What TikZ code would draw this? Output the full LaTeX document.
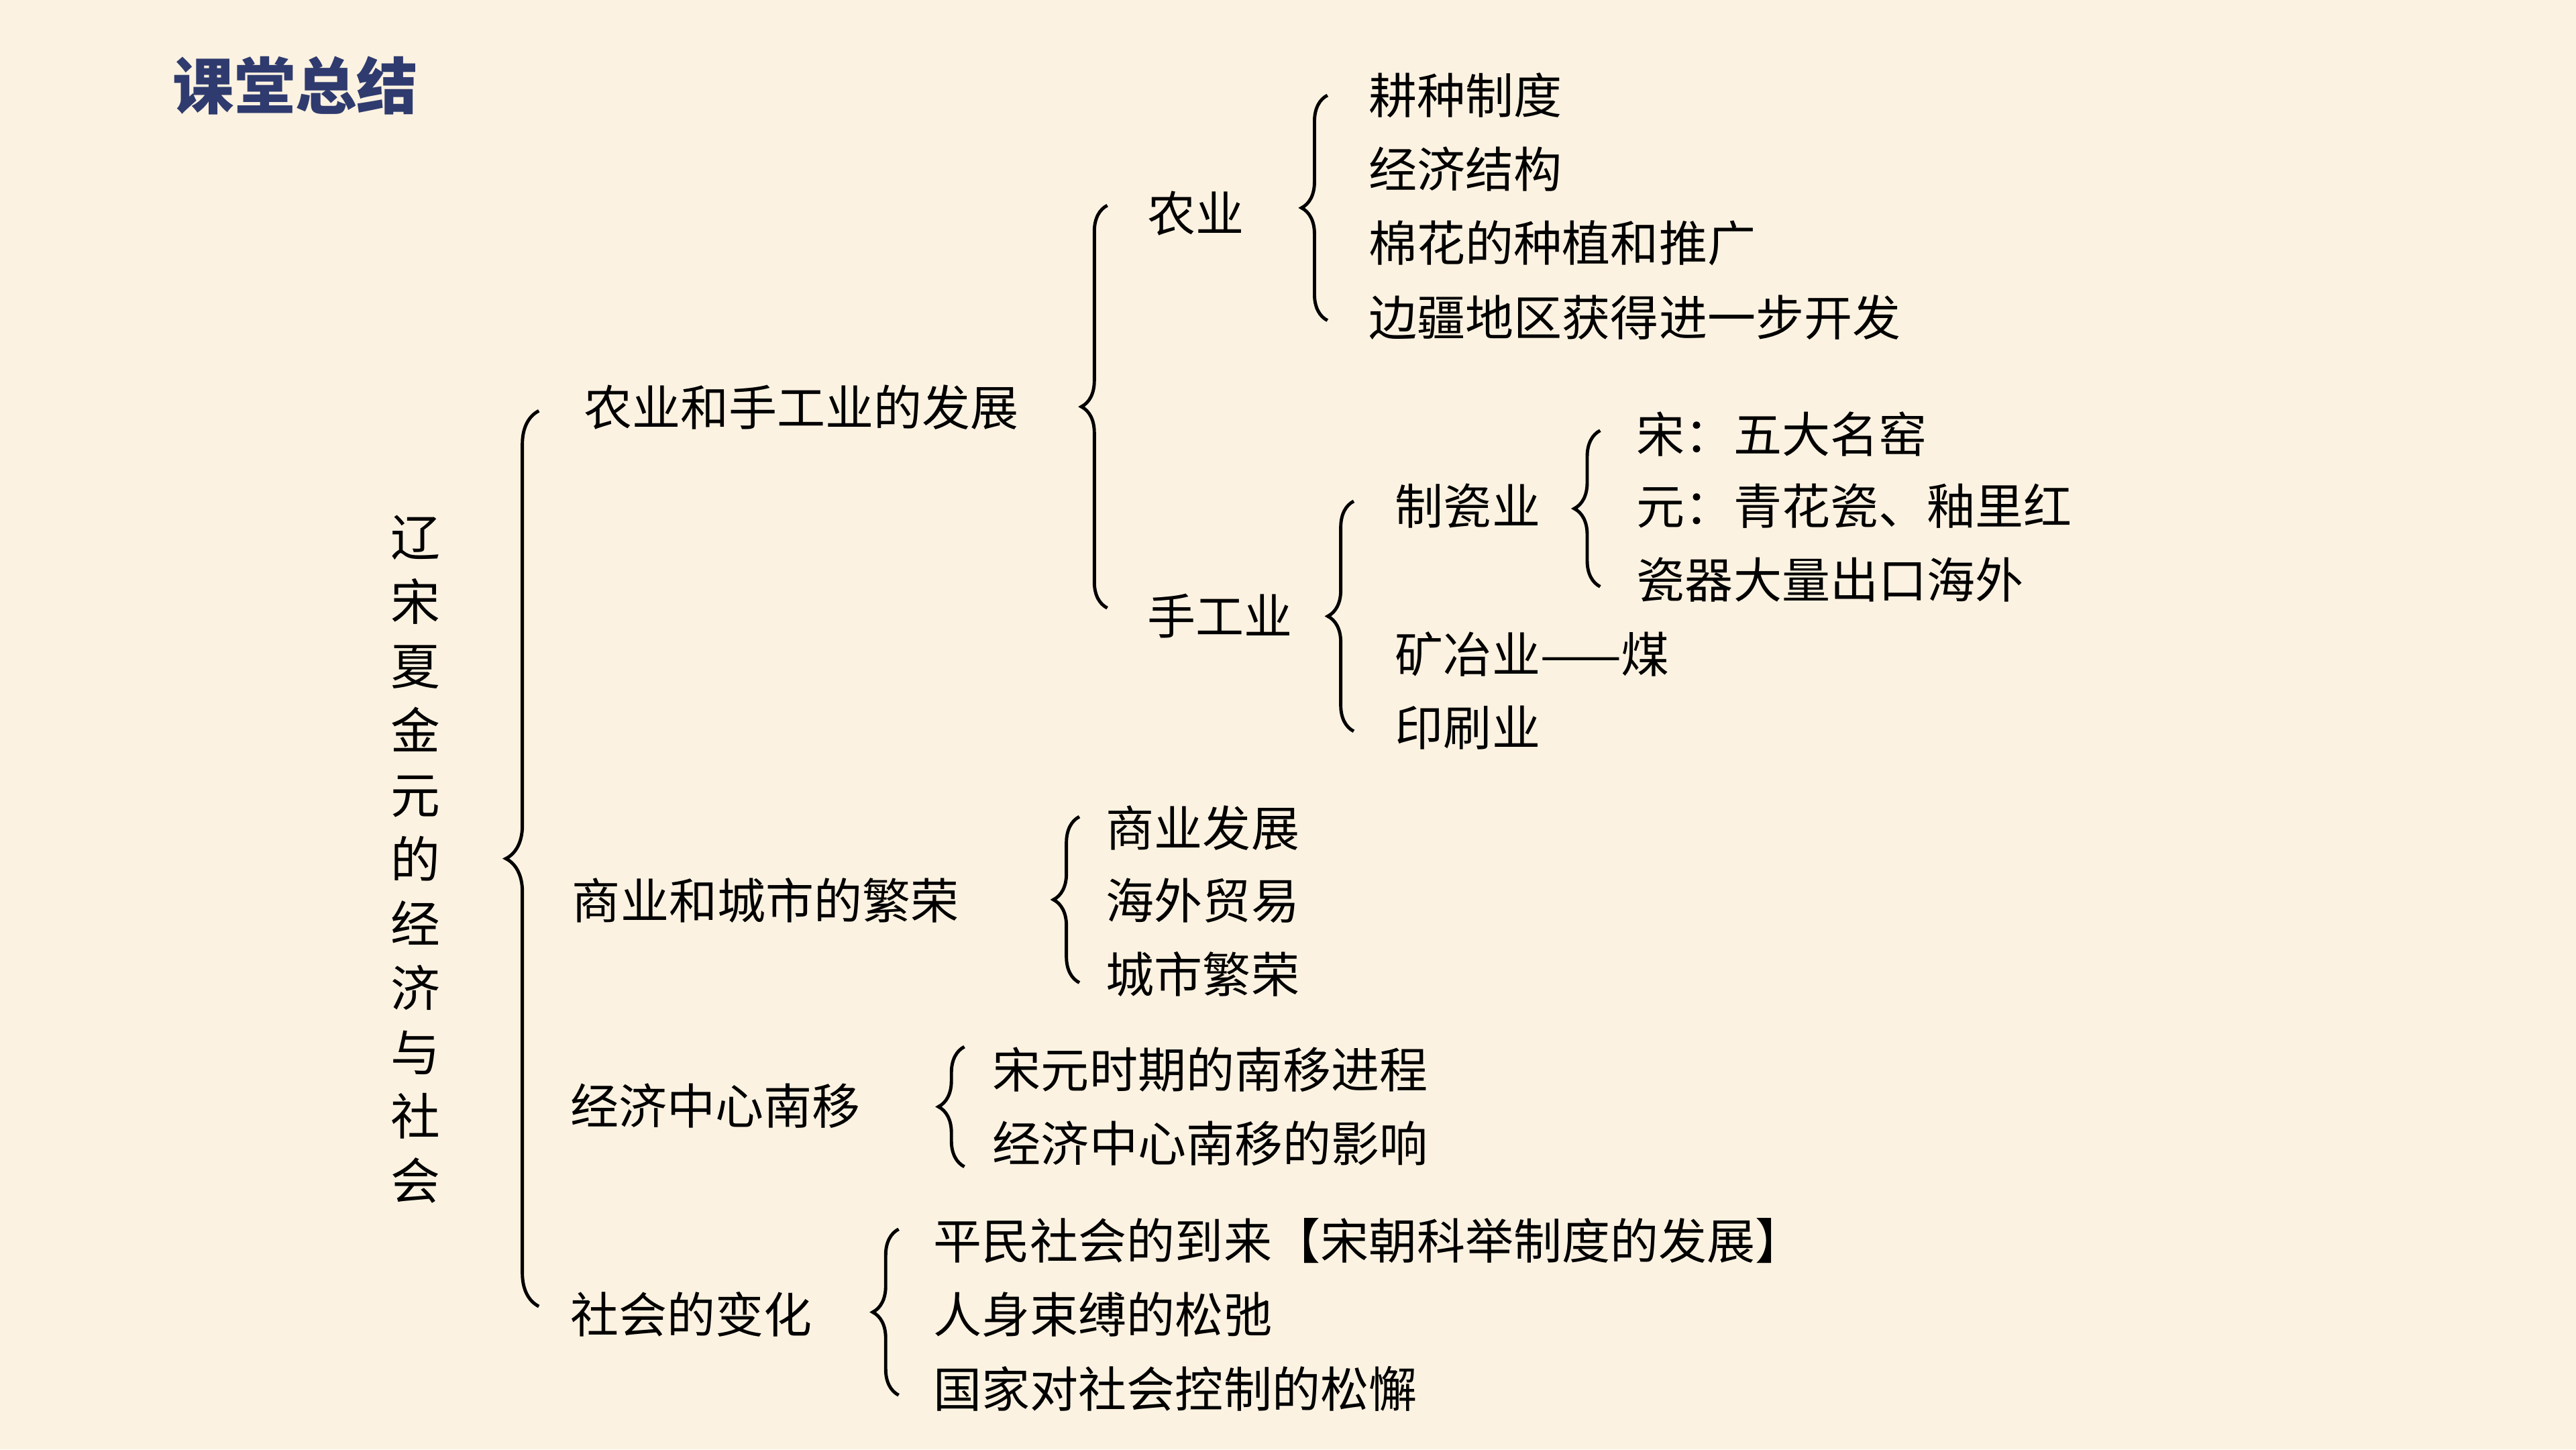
\documentclass[tikz,border=0pt]{standalone}
\usepackage{fontspec}
\setmainfont{Noto Sans CJK SC}
\usetikzlibrary{decorations.pathreplacing}
\definecolor{bg}{HTML}{FCF2E1}
\definecolor{ttl}{HTML}{2F3B6E}
\begin{document}
\begin{tikzpicture}[x=0.02449cm,y=-0.02449cm,
  t/.style={anchor=west,inner sep=0pt,font=\fontsize{20.5}{24}\selectfont},
  br/.style={decorate,decoration={brace,amplitude=#1},line width=1.4pt},
  br/.default=11]
\fill[bg] (0,0) rectangle (1568,882);
\useasboundingbox (0,0) rectangle (1568,882);
\node[anchor=west,inner sep=0pt,text=ttl,font=\fontsize{26}{30}\selectfont\bfseries] (title) at (105,52) {课堂总结};
\node[inner sep=0pt,align=center,font=\fontsize{21}{27.3}\selectfont] (main) at (253,523) {辽\\宋\\夏\\金\\元\\的\\经\\济\\与\\社\\会};
\draw[br=14] (328,795) -- (328,250);
\node[t] (a) at (355,248) {农业和手工业的发展};
\draw[br] (674,370) -- (674,125);
\node[t] (a1) at (698,130) {农业};
\draw[br] (808,195) -- (808,58);
\node[t] (a11) at (833,58) {耕种制度};
\node[t] (a12) at (833,103) {经济结构};
\node[t] (a13) at (833,148) {棉花的种植和推广};
\node[t] (a14) at (833,193) {边疆地区获得进一步开发};
\node[t] (a2) at (698,375) {手工业};
\draw[br] (824,445) -- (824,305);
\node[t] (a21) at (849,308) {制瓷业};
\draw[br] (974,357) -- (974,262);
\node[t] (a211) at (996,264) {宋：五大名窑};
\node[t] (a212) at (996,308) {元：青花瓷、釉里红};
\node[t] (a213) at (996,353) {瓷器大量出口海外};
\node[t] (a22) at (849,398) {矿冶业——煤};
\node[t] (a23) at (849,443) {印刷业};
\node[t] (b) at (348,548) {商业和城市的繁荣};
\draw[br] (657,598) -- (657,497);
\node[t] (b1) at (673,504) {商业发展};
\node[t] (b2) at (673,548) {海外贸易};
\node[t] (b3) at (673,593) {城市繁荣};
\node[t] (c) at (347,673) {经济中心南移};
\draw[br] (587,710) -- (587,637);
\node[t] (c1) at (604,651) {宋元时期的南移进程};
\node[t] (c2) at (604,696) {经济中心南移的影响};
\node[t] (d) at (347,800) {社会的变化};
\draw[br] (547,849) -- (547,748);
\node[t] (d1) at (568,755) {平民社会的到来【宋朝科举制度的发展】};
\node[t] (d2) at (568,800) {人身束缚的松弛};
\node[t] (d3) at (568,845) {国家对社会控制的松懈};
\end{tikzpicture}
\end{document}
